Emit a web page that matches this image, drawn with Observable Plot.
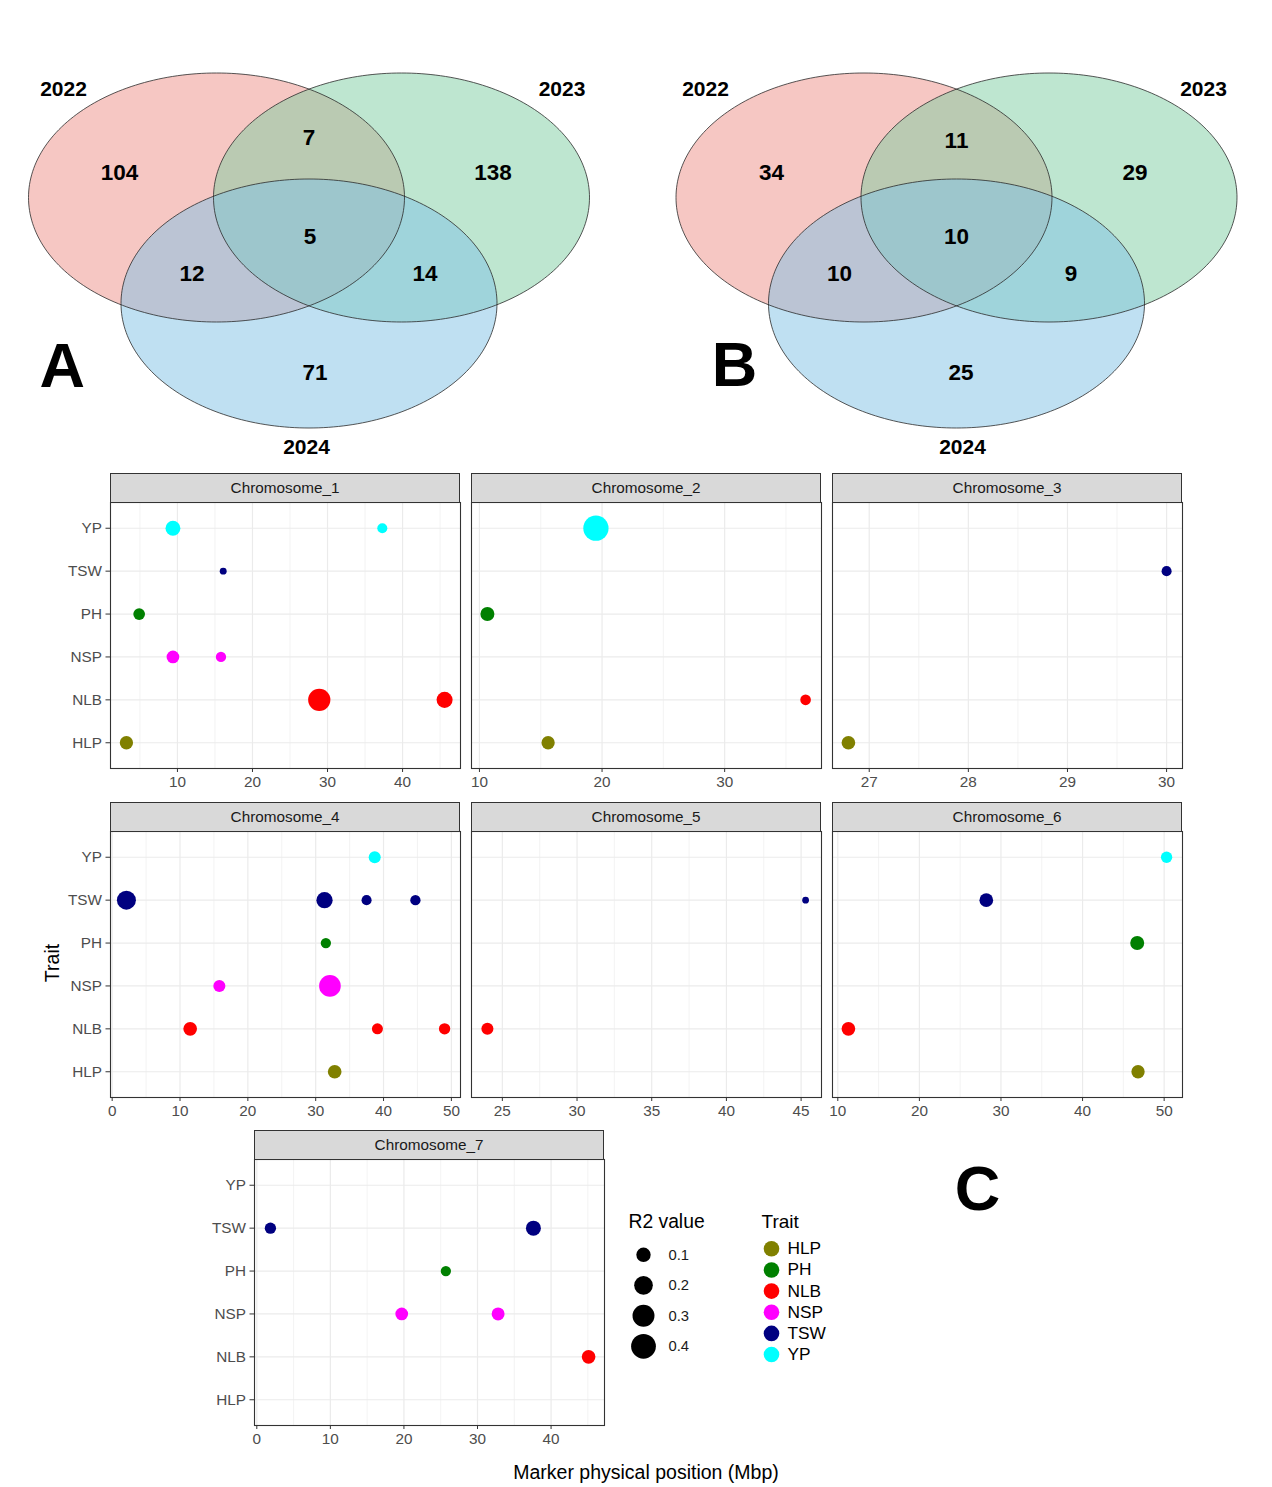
<!DOCTYPE html>
<html><head><meta charset="utf-8">
<script src="https://cdn.jsdelivr.net/npm/d3@7"></script>
<script src="https://cdn.jsdelivr.net/npm/@observablehq/plot@0.6"></script>
<style>
body{margin:0;background:#fff;}
#root{position:relative;width:1272px;height:1487px;font-family:"Liberation Sans",Arial,sans-serif;overflow:hidden;background:#fff;}
.strip{position:absolute;box-sizing:border-box;background:#D9D9D9;border:1.1px solid #333;color:#1A1A1A;font-size:15.3px;text-align:center;line-height:27px;}
.atitle{position:absolute;font-size:19.5px;color:#000;text-align:center;line-height:22px;}
</style></head><body><div id="root"></div>
<script>
// ---------------- DATA ----------------
const vennSets = ["2022", "2023", "2024"];
const vennCountsA = [104, 7, 138, 5, 12, 14, 71]; // only22, 22&23, only23, all, 22&24, 23&24, only24
const vennCountsB = [34, 11, 29, 10, 10, 9, 25];
const panelLetters = ["A", "B", "C"];

const traits = ["HLP", "PH", "NLB", "NSP", "TSW", "YP"];          // legend order
const traitAxisOrder = ["YP", "TSW", "PH", "NSP", "NLB", "HLP"];  // y axis, top to bottom
const chromosomes = ["Chromosome_1","Chromosome_2","Chromosome_3","Chromosome_4","Chromosome_5","Chromosome_6","Chromosome_7"];

const markerChr = [1,1,1,1,1,1,1,1,1, 2,2,2,2, 3,3, 4,4,4,4,4,4,4,4,4,4,4,4, 5,5, 6,6,6,6,6, 7,7,7,7,7,7];
const markerTrait = [
  "YP","YP","TSW","PH","NSP","NSP","NLB","NLB","HLP",
  "YP","PH","NLB","HLP",
  "HLP","TSW",
  "YP","TSW","TSW","TSW","TSW","PH","NSP","NSP","NLB","NLB","NLB","HLP",
  "NLB","TSW",
  "YP","TSW","PH","NLB","HLP",
  "TSW","TSW","PH","NSP","NSP","NLB"
];
const markerPos = [
  9.4, 37.3, 16.1, 4.9, 9.4, 15.8, 28.9, 45.6, 3.2,
  19.5, 10.65, 36.6, 15.6,
  26.79, 30.0,
  38.7, 2.1, 31.3, 37.5, 44.7, 31.5, 15.8, 32.1, 11.5, 39.1, 49.0, 32.8,
  24.0, 45.3,
  50.3, 28.2, 46.7, 11.3, 46.8,
  1.85, 37.6, 25.7, 19.7, 32.8, 45.1
];
const markerR2 = [
  0.11, 0.034, 0.008, 0.055, 0.07, 0.037, 0.31, 0.135, 0.08,
  0.42, 0.093, 0.041, 0.08,
  0.087, 0.034,
  0.06, 0.21, 0.14, 0.034, 0.037, 0.037, 0.06, 0.29, 0.087, 0.046, 0.05, 0.087,
  0.06, 0.007,
  0.05, 0.087, 0.093, 0.087, 0.081,
  0.05, 0.112, 0.037, 0.07, 0.075, 0.087
];
const xTickLabels = [
  [10, 20, 30, 40],
  [10, 20, 30],
  [27, 28, 29, 30],
  [0, 10, 20, 30, 40, 50],
  [25, 30, 35, 40, 45],
  [10, 20, 30, 40, 50],
  [0, 10, 20, 30, 40]
];
const r2Breaks = [0.1, 0.2, 0.3, 0.4];

// ---------------- STYLES / LAYOUT ----------------
const traitColors = ["#808000", "#008000", "#FF0000", "#FF00FF", "#000080", "#00FFFF"];
const vennFills = ["rgb(237,143,135)", "rgb(125,205,161)", "rgb(127,193,229)"];
const FONT = '"Liberation Sans", Arial, sans-serif';
const TICK_FS = 15.3;
const rScale = {type: "sqrt", domain: [0, 0.41], range: [2, 12.5]};
const colorScale = {type: "ordinal", domain: traits, range: traitColors};

const vennGeom = [
  {centers: [[216, 197], [401, 197], [308.5, 303]], rx: 188, ry: 124.5,
   labels: [[119,172.7],[308.5,137.3],[492.5,172.7],[309.5,236],[191.5,273.3],[424.5,273.3],[314.5,372.7]],
   years: [[63,89],[561.5,89],[306,446.7]], letter: [61.7, 366]},
  {centers: [[863.5, 197], [1048.5, 197], [956, 303]], rx: 188, ry: 124.5,
   labels: [[771,172.7],[956,140.7],[1134.5,172.7],[956,236],[839,273],[1070.5,273],[960.5,372.7]],
   years: [[705,89],[1203,89],[962,446.7]], letter: [734, 365]}
];
const panelLeft = [110, 471, 832, 110, 471, 832, 254];
const panelTop  = [502, 502, 502, 831, 831, 831, 1159];
const showY = [true, false, false, true, false, false, true];
const PW = 350, PH = 266, STRIP = 29;

const root = document.getElementById("root");
function place(el, left, top) {
  el.style.position = "absolute";
  el.style.left = left + "px";
  el.style.top = top + "px";
  root.appendChild(el);
}
const baseStyle = {background: "transparent", maxWidth: "none", overflow: "visible", fontFamily: FONT, fontSize: TICK_FS + "px"};

// ---------------- VENN ----------------
function ellipsePts(c, rx, ry) {
  return d3.range(240).map(i => {
    const t = 2 * Math.PI * i / 240;
    return {x: c[0] + rx * Math.cos(t), y: c[1] + ry * Math.sin(t)};
  });
}
const vennMarks = [];
[vennCountsA, vennCountsB].forEach((counts, k) => {
  const g = vennGeom[k];
  g.centers.forEach((c, i) => vennMarks.push(Plot.line(ellipsePts(c, g.rx, g.ry),
    {x: "x", y: "y", fill: vennFills[i], fillOpacity: 0.5, stroke: "none", curve: "linear-closed"})));
  g.centers.forEach((c, i) => vennMarks.push(Plot.line(ellipsePts(c, g.rx, g.ry),
    {x: "x", y: "y", fill: "none", stroke: "#2b2b2b", strokeWidth: 0.8, curve: "linear-closed"})));
  vennMarks.push(Plot.text(counts.map((v, i) => ({v, p: g.labels[i]})),
    {x: d => d.p[0], y: d => d.p[1], text: d => String(d.v), fontSize: 22.5, fontWeight: "bold", fill: "#000"}));
  vennMarks.push(Plot.text(vennSets.map((s, i) => ({s, p: g.years[i]})),
    {x: d => d.p[0], y: d => d.p[1], text: "s", fontSize: 21, fontWeight: "bold", fill: "#000"}));
  vennMarks.push(Plot.text([panelLetters[k]],
    {x: g.letter[0], y: g.letter[1], text: d => d, fontSize: 63, fontWeight: "bold", fill: "#000"}));
});
const venn = Plot.plot({
  width: 1272, height: 470, margin: 0,
  x: {domain: [0, 1272], range: [0, 1272], axis: null},
  y: {domain: [0, 470], range: [0, 470], axis: null},
  style: baseStyle,
  marks: vennMarks
});
place(venn, 0, 0);

// ---------------- FACET PANELS ----------------
const markers = markerChr.map((c, i) => ({chr: c, trait: markerTrait[i], pos: markerPos[i], r2: markerR2[i]}));

chromosomes.forEach((name, k) => {
  const rows = markers.filter(d => d.chr === k + 1);
  const ext = d3.extent(rows, d => d.pos);
  const pad = (ext[1] - ext[0]) * 0.05;
  const dom = [ext[0] - pad, ext[1] + pad];
  const major = xTickLabels[k];
  const step = major[1] - major[0];
  const minor = [major[0] - step / 2, ...major.map(t => t + step / 2)].filter(t => t > dom[0] && t < dom[1]);
  const mL = 60, mR = 8, mT = 3, mB = 30;
  const marks = [
    Plot.ruleX(minor, {stroke: "#EBEBEB", strokeWidth: 0.6}),
    Plot.ruleX(major, {stroke: "#EBEBEB", strokeWidth: 1.2}),
    Plot.ruleY(traitAxisOrder, {stroke: "#EBEBEB", strokeWidth: 1.2}),
    Plot.dot(rows, {x: "pos", y: "trait", r: "r2", fill: "trait"}),
    Plot.frame({stroke: "#333", strokeWidth: 1.1}),
    Plot.axisX({ticks: major, tickFormat: d => String(d), tickSize: 4, tickPadding: 4, fontSize: TICK_FS, color: "#4D4D4D", stroke: "#333", label: null})
  ];
  if (showY[k]) marks.push(Plot.axisY({tickSize: 4.5, tickPadding: 4, fontSize: TICK_FS, color: "#4D4D4D", stroke: "#333", label: null}));
  const yOpts = {type: "point", domain: traitAxisOrder, padding: 0.6, round: false, label: null};
  if (!showY[k]) yOpts.axis = null;
  const svg = Plot.plot({
    width: PW + mL + mR, height: PH + mT + mB,
    marginLeft: mL, marginRight: mR, marginTop: mT, marginBottom: mB,
    x: {domain: dom, label: null},
    y: yOpts,
    r: rScale,
    color: colorScale,
    style: baseStyle,
    marks
  });
  place(svg, panelLeft[k] - mL, panelTop[k] - mT);
  const strip = document.createElement("div");
  strip.className = "strip";
  strip.style.width = PW + "px";
  strip.style.height = (STRIP + 1) + "px";
  strip.textContent = name;
  place(strip, panelLeft[k], panelTop[k] - STRIP);
});

// axis titles
const xt = document.createElement("div");
xt.className = "atitle"; xt.style.width = "400px";
xt.textContent = "Marker physical position (Mbp)";
place(xt, 446, 1461);
const yt = document.createElement("div");
yt.className = "atitle"; yt.style.width = "100px";
yt.style.transform = "rotate(-90deg)";
yt.textContent = "Trait";
place(yt, 2, 952);

// ---------------- LEGENDS + C ----------------
const legend = Plot.plot({
  width: 672, height: 260, margin: 0,
  x: {domain: [600, 1272], range: [0, 672], axis: null},
  y: {domain: [1130, 1390], range: [0, 260], axis: null},
  r: rScale, color: colorScale,
  style: baseStyle,
  marks: [
    Plot.text(["R2 value"], {x: 628, y: 1221, text: d => d, textAnchor: "start", fontSize: 19.3, fill: "#000"}),
    Plot.dot(r2Breaks, {x: 643, y: (d, i) => 1254.3 + 30.5 * i, r: d => d, fill: "#000"}),
    Plot.text(r2Breaks, {x: 668, y: (d, i) => 1254.3 + 30.5 * i, text: d => String(d), textAnchor: "start", fontSize: 14.8, fill: "#1A1A1A"}),
    Plot.text(["Trait"], {x: 761, y: 1221, text: d => d, textAnchor: "start", fontSize: 19, fill: "#000"}),
    Plot.dot(traits, {x: 771, y: (d, i) => 1248.3 + 21.15 * i, r: 7.8, fill: d => d}),
    Plot.text(traits, {x: 787, y: (d, i) => 1248.3 + 21.15 * i, text: d => d, textAnchor: "start", fontSize: 17.3, fill: "#000"}),
    Plot.text([panelLetters[2]], {x: 977, y: 1189, text: d => d, fontSize: 63, fontWeight: "bold", fill: "#000"})
  ]
});
place(legend, 600, 1130);
</script></body></html>
